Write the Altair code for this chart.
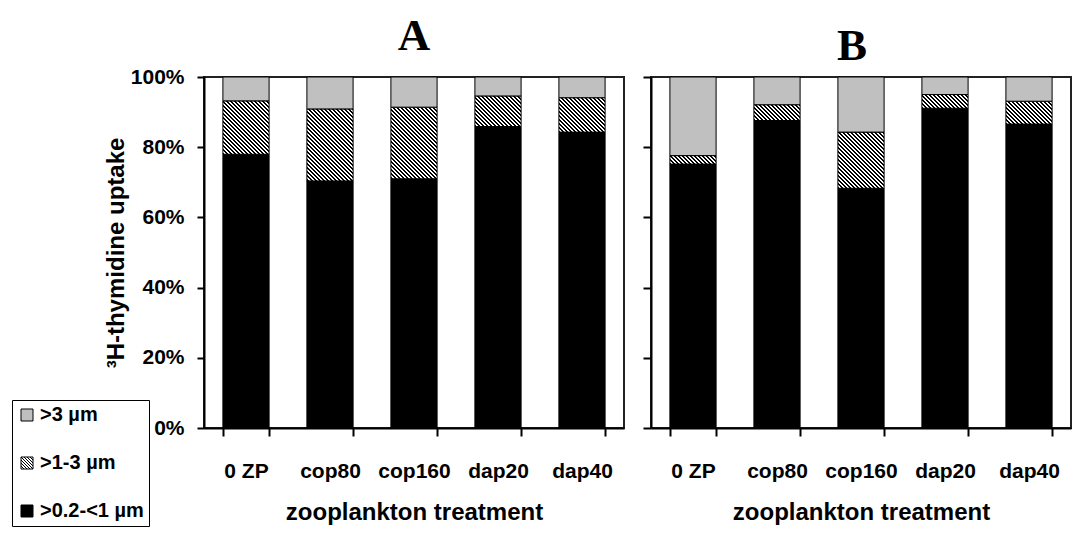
import altair as alt
import pandas as pd

treatments = ["0 ZP", "cop80", "cop160", "dap20", "dap40"]
black_A = [78.0, 70.4, 71.0, 85.9, 84.3]
hatch_A = [15.2, 20.5, 20.4, 8.7, 9.8]
grey_A = [6.8, 9.1, 8.6, 5.4, 5.9]
black_B = [75.2, 87.6, 68.3, 91.1, 86.6]
hatch_B = [2.4, 4.5, 16.0, 3.9, 6.5]
grey_B = [22.4, 7.9, 15.7, 5.0, 6.9]
size_classes = [">3 µm", ">1-3 µm", ">0.2-<1 µm"]
y_ticks = [0, 20, 40, 60, 80, 100]

PLOT_W, PLOT_H = 420, 351
PAD_IN = 0.45
BAR_W = PLOT_W / len(treatments) * (1 - PAD_IN)
GREY = "#C0C0C0"
FONT = "Liberation Sans"

SQ = "M-1,-1H1V1H-1Z"
HATCH_PATH = ("M-1,-1H1V1H-1Z"
              "M-1,-1L1,1M-1,-0.5L0.5,1M-0.5,-1L1,0.5M-1,0L0,1M0,-1L1,0"
              "M-1,0.5L-0.5,1M0.5,-1L1,-0.5")


def hatch_gradient(h_pct):
    w = BAR_W
    h = max(h_pct * PLOT_H / 100.0, 0.5)
    k = (w + h) / (w * w + h * h)
    L = w + h
    period, ink = 4.0, 2.0
    stops = []
    s = 0.0
    while s < L:
        a = min(s / L, 1.0)
        b = min((s + ink) / L, 1.0)
        c = min((s + period) / L, 1.0)
        stops += [(a, "black"), (b, "black"), (b, "white"), (c, "white")]
        s += period
    return {
        "gradient": "linear",
        "x1": 0, "y1": 1, "x2": w * k, "y2": 1 - h * k,
        "stops": [{"offset": round(o, 5), "color": col} for o, col in stops],
    }


def panel(black, hatch, grey, title, first, title_dx):
    df = pd.DataFrame({"treatment": treatments, "black": black,
                       "hatch": hatch, "grey": grey})
    base = alt.Chart(df).transform_calculate(
        zero="0",
        top1="datum.black",
        top2="datum.black + datum.hatch",
        top3="datum.black + datum.hatch + datum.grey",
    )
    x = alt.X(
        "treatment:N", sort=treatments,
        scale=alt.Scale(paddingInner=PAD_IN, paddingOuter=PAD_IN / 2),
        axis=alt.Axis(
            title="zooplankton treatment", tickBand="extent", labelAngle=0,
            labelFontSize=21, labelFontWeight="bold", labelFont=FONT,
            labelColor="black", labelPadding=24, tickSize=8, tickWidth=2,
            tickColor="black", domainColor="black", domainWidth=2,
            titleFontSize=24, titleFontWeight="bold", titleFont=FONT,
            titleColor="black", titlePadding=19, grid=False,
        ),
    )
    if first:
        y_axis = alt.Axis(
            values=y_ticks, labelExpr="datum.value + '%'",
            labelFontSize=21, labelFontWeight="bold", labelFont=FONT,
            labelColor="black", labelPadding=13, tickSize=7, tickWidth=2,
            tickColor="black", domainColor="black", domainWidth=2,
            title="³H-thymidine uptake", titleFontSize=24,
            titleFontWeight="bold", titleFont=FONT, titleColor="black",
            titlePadding=2, grid=False,
        )
    else:
        y_axis = alt.Axis(
            values=y_ticks, labels=False, tickSize=8, tickWidth=2,
            tickColor="black", domainColor="black", domainWidth=2,
            title=None, grid=False,
        )
    y_scale = alt.Scale(domain=[0, 100], nice=False)

    black_layer = base.mark_bar(fill="black", stroke="black", strokeWidth=1).encode(
        x=x, y=alt.Y("top1:Q", scale=y_scale, axis=y_axis), y2="zero:Q"
    )
    hatch_layers = [
        base.transform_filter(alt.datum.treatment == t)
        .mark_bar(fill=hatch_gradient(hv), stroke="black", strokeWidth=1)
        .encode(x=x, y=alt.Y("top1:Q", scale=y_scale), y2="top2:Q")
        for t, hv in zip(treatments, hatch)
    ]
    grey_layer = base.mark_bar(fill=GREY, stroke="black", strokeWidth=1).encode(
        x=x, y=alt.Y("top2:Q", scale=y_scale), y2="top3:Q"
    )
    layers = [black_layer] + hatch_layers + [grey_layer]

    if first:
        leg_df = pd.DataFrame({"size": size_classes})
        legend = alt.Legend(
            title=None, orient="none", legendX=-192, legendY=323,
            strokeColor="black", fillColor="white", padding=5,
            symbolSize=144, symbolStrokeWidth=1, symbolOpacity=1,
            labelFontSize=20, labelFontWeight="bold",
            labelFont=FONT, labelColor="black", labelOffset=3,
            rowPadding=28, offset=0,
        )
        leg_layer = alt.Chart(leg_df).mark_point(
            filled=True, strokeWidth=1, opacity=0
        ).encode(
            fill=alt.Fill("size:N", sort=size_classes,
                          scale=alt.Scale(domain=size_classes,
                                          range=[GREY, "white", "black"]),
                          legend=legend),
            stroke=alt.Stroke("size:N", sort=size_classes,
                              scale=alt.Scale(domain=size_classes,
                                              range=["black", "black", "black"]),
                              legend=legend),
            shape=alt.Shape("size:N", sort=size_classes,
                            scale=alt.Scale(domain=size_classes,
                                            range=[SQ, HATCH_PATH, SQ]),
                            legend=legend),
        )
        layers.append(leg_layer)

    return alt.layer(*layers).properties(
        width=PLOT_W, height=PLOT_H,
        title=alt.TitleParams(text=title, font="Liberation Serif", fontSize=45,
                              fontWeight="bold", color="black", dx=title_dx,
                              offset=7),
    )


chart = alt.hconcat(
    panel(black_A, hatch_A, grey_A, "A", True, 0),
    panel(black_B, hatch_B, grey_B, "B", False, -9),
    spacing=16,
).properties(
    padding={"left": 3, "top": 5, "right": 0, "bottom": 0},
    background="white",
).configure_view(stroke="#222222", strokeWidth=2)

chart.save("out.html", embed_options={"renderer": "svg", "actions": False})
